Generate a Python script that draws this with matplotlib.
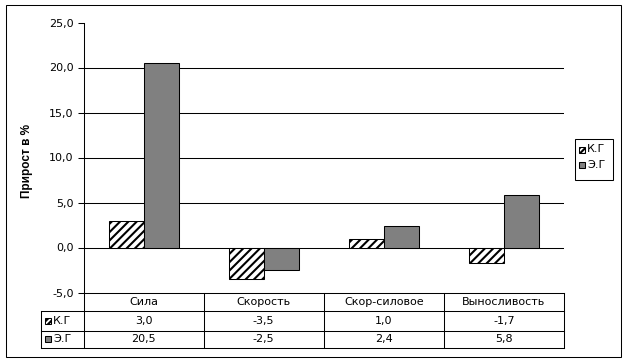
import matplotlib
matplotlib.use('Agg')
import matplotlib.pyplot as plt
from matplotlib.patches import Rectangle
import numpy as np

categories = ['Сила', 'Скорость', 'Скор-силовое', 'Выносливость']
series_names = ['К.Г', 'Э.Г']
kg_values = [3.0, -3.5, 1.0, -1.7]
eg_values = [20.5, -2.5, 2.4, 5.8]
y_ticks = [-5, 0, 5, 10, 15, 20, 25]
y_label = 'Прирост в %'

W, H = 628, 362
plt.rcParams['font.family'] = ['DejaVu Sans']
plt.rcParams['hatch.linewidth'] = 1.5
LW = 0.75
FS = 8
GREY = '#808080'

fig = plt.figure(figsize=(W / 100, H / 100), dpi=100)


def fx(px):
    return px / W


def fy(py):
    return 1 - py / H


def fmt(v):
    return f'{v:.1f}'.replace('.', ',')


ax_left, ax_right = 83.5, 564
ax_top, ax_bottom = 22.5, 292.5
ax = fig.add_axes([fx(ax_left), fy(ax_bottom), (ax_right - ax_left) / W, (ax_bottom - ax_top) / H])
ax.set_xlim(0, len(categories))
ax.set_ylim(y_ticks[0], y_ticks[-1])
x = np.arange(len(categories)) + 0.5
bw = 35 / 120
ax.bar(x - bw / 2, kg_values, bw, facecolor='white', edgecolor='black', hatch='////', linewidth=LW, zorder=3)
ax.bar(x + bw / 2, eg_values, bw, facecolor=GREY, edgecolor='black', linewidth=LW, zorder=3)
for v in y_ticks[1:-1]:
    ax.axhline(v, color='black', lw=LW, zorder=1)
ax.set_yticks(y_ticks)
ax.set_yticklabels([fmt(v) for v in y_ticks], fontsize=FS)
ax.set_xticks([])
ax.tick_params(axis='y', direction='out', length=4, width=LW, pad=3)
for s in ['top', 'right']:
    ax.spines[s].set_visible(False)
for s in ['left', 'bottom']:
    ax.spines[s].set_linewidth(LW)

fig.text(fx(27), fy(161), y_label, rotation=90, fontweight='bold', ha='center', va='center',
         fontsize=8.5, family=['Liberation Sans', 'DejaVu Sans'])

# overlay for table, legend, border
ov = fig.add_axes([0, 0, 1, 1], zorder=5)
ov.set_xlim(0, W)
ov.set_ylim(H, 0)
ov.axis('off')

row_y = [292.5, 311, 330.5, 348]
key_left = 41
ncat = len(categories)
col_w = (ax_right - ax_left) / ncat
edges = [ax_left + i * col_w for i in range(ncat + 1)]

# horizontal table lines
for yy in row_y[1:]:
    ov.plot([key_left, ax_right], [yy, yy], color='black', lw=LW)
# vertical lines
ov.plot([key_left, key_left], [row_y[1], row_y[-1]], color='black', lw=LW)
for e in edges:
    ov.plot([e, e], [row_y[0], row_y[-1]], color='black', lw=LW)

# header
hy = (row_y[0] + row_y[1]) / 2
for i, c in enumerate(categories):
    ov.text((edges[i] + edges[i + 1]) / 2, hy, c, ha='center', va='center', fontsize=FS)

series_vals = [kg_values, eg_values]
styles = [dict(facecolor='white', hatch='//////'), dict(facecolor=GREY)]
for r, (name, vals, st) in enumerate(zip(series_names, series_vals, styles)):
    cy = (row_y[r + 1] + row_y[r + 2]) / 2
    ov.add_patch(Rectangle((45, cy - 3), 6, 6, edgecolor='black', linewidth=LW, **st))
    ov.text(53, cy, name, ha='left', va='center', fontsize=FS)
    for i, v in enumerate(vals):
        ov.text((edges[i] + edges[i + 1]) / 2, cy, fmt(v), ha='center', va='center', fontsize=FS)

# legend
ov.add_patch(Rectangle((575, 138.5), 38, 41, facecolor='white', edgecolor='black', linewidth=LW))
for r, (name, st) in enumerate(zip(series_names, styles)):
    cy = 149.5 + r * 15
    ov.add_patch(Rectangle((579, cy - 3), 6, 6, edgecolor='black', linewidth=LW, **st))
    ov.text(587, cy, name, ha='left', va='center', fontsize=FS)

# outer border
ov.add_patch(Rectangle((5.5, 4.5), 615, 352.5, facecolor='none', edgecolor='black', linewidth=LW))

fig.savefig('out.png', dpi=100)
